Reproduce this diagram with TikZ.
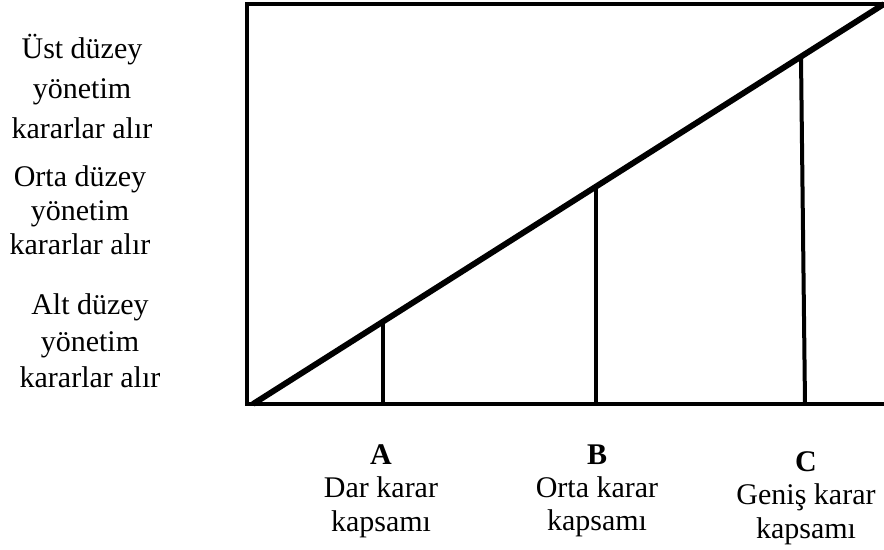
\documentclass[tikz,border=0pt]{standalone}
\usepackage{fontspec}
\setmainfont{Liberation Serif}

\begin{document}
\begin{tikzpicture}[x=0.75pt, y=-0.75pt, line width=3.4pt,
    lbl/.style={align=center, font=\fontsize{22.5}{#1}\selectfont},
    lbl/.default=25pt]
  \useasboundingbox (0,0) rectangle (884,549);
  % frame, open on the right
  \draw[line cap=rect] (884,4) -- (247,4) -- (247,404) -- (884,404);
  % decision scope line
  \draw[line width=4.4pt] (253,404) -- (884,4);
  \draw[line width=3pt] (383,321) -- (383,404);
  \draw[line width=3pt] (596,186) -- (596,404);
  \draw[line width=3pt] (801,58) -- (805,404);
  % levels
  \node[lbl=30pt] (ust) at (82,86) {Üst düzey\\yönetim\\kararlar alır};
  \node[lbl=25.5pt] (orta) at (80,210) {Orta düzey\\yönetim\\kararlar alır};
  \node[lbl=27.5pt] (alt) at (90,341) {Alt düzey\\yönetim\\kararlar alır};
  % scopes
  \node[lbl] (kA) at (381,491) {\textbf{A}\\Dar karar\\kapsamı};
  \node[lbl] (kB) at (597,491) {\textbf{B}\\Orta karar\\kapsamı};
  \node[lbl] (kC) at (806,498) {\textbf{C}\\Geniş karar\\kapsamı};
\end{tikzpicture}
\end{document}
